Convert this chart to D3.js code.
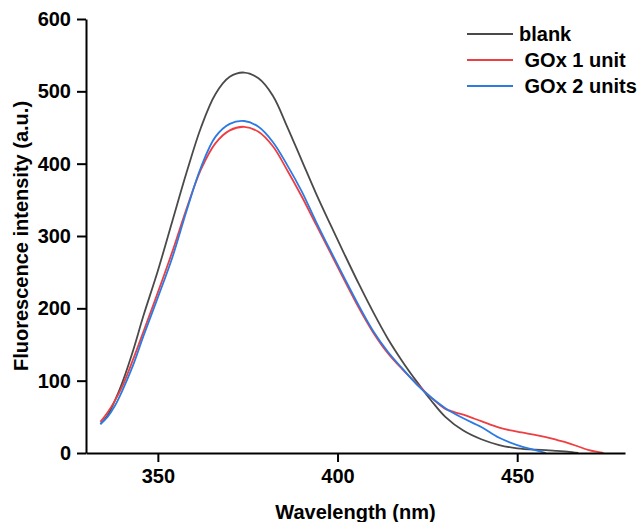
<!DOCTYPE html>
<html>
<head>
<meta charset="utf-8">
<script src="https://cdn.jsdelivr.net/npm/d3@7/dist/d3.min.js"></script>
<style>
  body { margin: 0; background: #fff; }
  svg { display: block; font-family: "Liberation Sans", Arial, sans-serif; font-weight: bold; }
</style>
</head>
<body>
<div id="chart"></div>
<script>
// DATA
var wavelength = [334, 336, 338, 340, 343, 346, 350, 354, 358, 362, 366, 370, 374, 378, 382, 386, 390, 394, 398,
  402, 406, 410, 414, 418, 422, 426, 430, 435, 440, 445, 450, 455, 458, 461, 464, 467, 470, 474];

var blank = [40, 52, 72, 96, 140, 190, 252, 320, 388, 450, 496, 520, 526, 518, 494, 451, 405, 359, 316,
  274, 233, 194, 158, 127, 99, 73, 50, 31, 19, 11, 6.5, 4.5, 4, 3, 2, 0, null, null];

var gox1 = [43, 56, 72, 91, 128, 168, 222, 278, 338, 392, 428, 446, 451, 444, 424, 391, 355, 316, 277,
  238, 200, 166, 138, 116, 96, 77, 61, 53, 44, 35, 29.5, 25, 22, 18, 14, 9, 4, 0];

var gox2 = [40, 50, 65, 85, 120, 162, 215, 270, 335, 395, 437, 455, 459, 451, 430, 398, 362, 320, 280,
  241, 203, 168, 140, 117, 95, 77, 62, 48, 36, 21, 11, 4, 0, null, null, null, null, null];

var seriesNames = ["blank", " GOx 1 unit", " GOx 2 units"];
var seriesColors = ["#4a4a4a", "#ef3e42", "#2b7be3"];

var xMajor = [350, 400, 450],
  xMinor = [375, 425, 475];
var yMajor = [0, 100, 200, 300, 400, 500, 600],
  yMinor = [50, 150, 250, 350, 450, 550];

// SVG
var width = 638,
  height = 522;
var margin = { left: 86, right: 13, top: 19, bottom: 69 };

var svg = d3.select("#chart").append("svg").attr("width", width).attr("height", height);

var xScale = d3.scaleLinear().domain([330, 480]).range([margin.left, width - margin.right]),
  yScale = d3.scaleLinear().domain([0, 600]).range([height - margin.bottom, margin.top]);

var allSeries = [blank, gox1, gox2].map(function (vals, i) {
  return {
    name: seriesNames[i],
    color: seriesColors[i],
    values: wavelength.map(function (w, j) {
      return { x: w, y: vals[j] };
    }),
  };
});

var line = d3
  .line()
  .defined(function (d) { return d.y != null; })
  .x(function (d) { return xScale(d.x); })
  .y(function (d) { return yScale(d.y); })
  .curve(d3.curveCatmullRom.alpha(0.5));

svg.selectAll(".series")
  .data(allSeries)
  .enter()
  .append("path")
  .attr("class", "series")
  .attr("fill", "none")
  .attr("stroke", function (d) { return d.color; })
  .attr("stroke-width", 1.8)
  .attr("d", function (d) { return line(d.values); });

// axes
var yAxisG = svg.append("g").attr("transform", "translate(" + margin.left + ",0)");
yAxisG.call(d3.axisLeft(yScale).tickValues(yMinor).tickFormat("").tickSize(5).tickSizeOuter(0));
yAxisG.call(d3.axisLeft(yScale).tickValues(yMajor).tickSize(9).tickPadding(6).tickSizeOuter(0));

var xAxisG = svg.append("g").attr("transform", "translate(0," + (height - margin.bottom) + ")");
xAxisG.call(d3.axisBottom(xScale).tickValues(xMinor).tickFormat("").tickSize(5).tickSizeOuter(0));
xAxisG.call(d3.axisBottom(xScale).tickValues(xMajor).tickSize(9).tickPadding(7).tickSizeOuter(0));

svg.selectAll(".domain, .tick line").attr("stroke", "#000").attr("stroke-width", 2);
svg.selectAll(".tick text")
  .attr("font-family", "Liberation Sans, Arial, sans-serif")
  .attr("font-weight", "bold")
  .attr("font-size", 20)
  .attr("fill", "#000");

// axis titles
svg.append("text")
  .attr("x", (xScale(330) + xScale(480)) / 2)
  .attr("y", 519)
  .attr("text-anchor", "middle")
  .attr("font-size", 20)
  .text("Wavelength (nm)");

svg.append("text")
  .attr("transform", "translate(28," + (yScale(0) + yScale(600)) / 2 + ") rotate(-90)")
  .attr("text-anchor", "middle")
  .attr("font-size", 20)
  .text("Fluorescence intensity (a.u.)");

// legend
var legend = svg.selectAll(".legend")
  .data(allSeries)
  .enter()
  .append("g")
  .attr("class", "legend")
  .attr("transform", function (d, i) { return "translate(467," + (34 + i * 26) + ")"; });

legend.append("line")
  .attr("x1", 0)
  .attr("x2", 46)
  .attr("stroke", function (d) { return d.color; })
  .attr("stroke-width", 2);

legend.append("text")
  .attr("x", 52)
  .attr("y", 7)
  .attr("font-size", 20)
  .style("white-space", "pre")
  .text(function (d) { return d.name; });
</script>
</body>
</html>
